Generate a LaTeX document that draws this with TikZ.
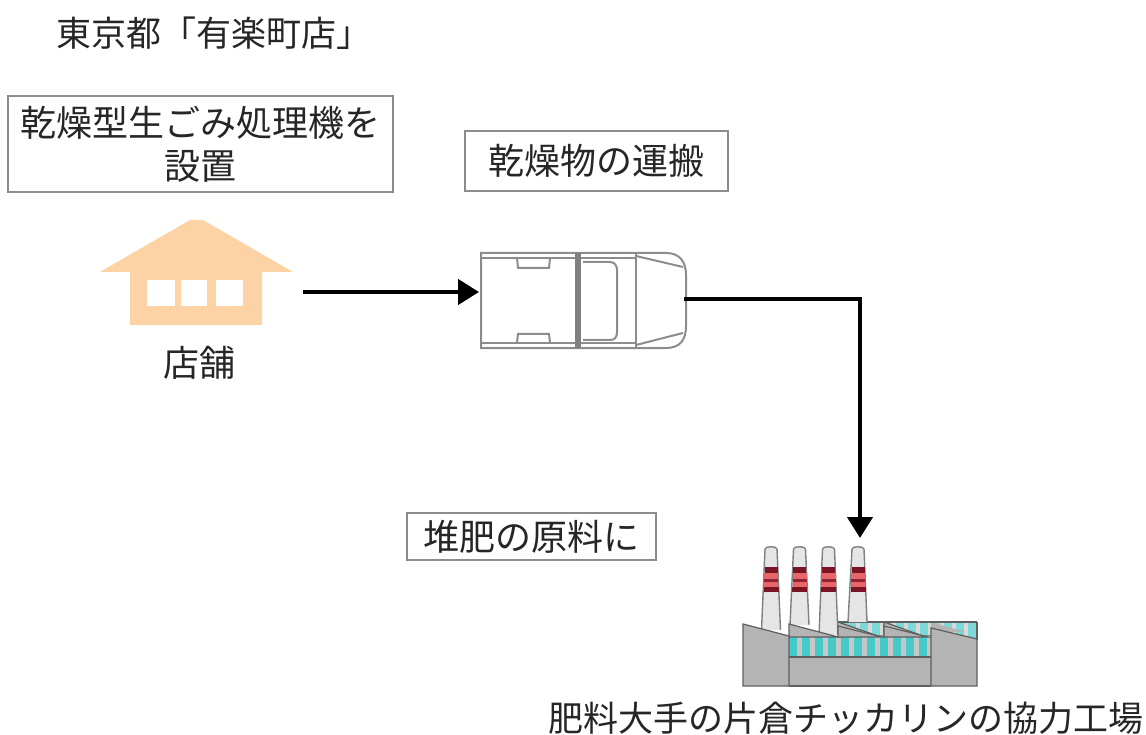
\documentclass[tikz,border=0pt]{standalone}
\usepackage{fontspec}
\usepackage{tikz}
\usetikzlibrary{arrows.meta}
\setmainfont{Noto Sans CJK JP}
\definecolor{housecol}{HTML}{FDD2A4}
\definecolor{wallcol}{HTML}{B4B4B4}
\definecolor{edgecol}{HTML}{5E5E5E}
\definecolor{glasscol}{HTML}{45C9C9}
\definecolor{banddark}{HTML}{7A1424}
\definecolor{bandlight}{HTML}{E8666A}
\tikzset{
  lbl/.style={inner sep=0pt,text=black!85,align=center,font=\fontsize{36}{43}\selectfont},
  lblbox/.style={lbl,draw=black!45,line width=1.2pt,rectangle},
  flow/.style={line width=4.4pt,-{Triangle[length=21pt,width=25pt]}},
  truckline/.style={draw=black!45,line width=2pt}
}
\begin{document}
\begin{tikzpicture}[x=1pt,y=-1pt]
\useasboundingbox (0,0) rectangle (1146,735);
\node[lbl,font=\fontsize{35}{40}\selectfont] (title) at (214,33) {東京都「有楽町店」};
\node[lblbox,minimum width=385pt,minimum height=96pt] (boxdry) at (200.5,144) {乾燥型生ごみ処理機を\\設置};
\node[lblbox,minimum width=263pt,minimum height=60pt] (boxcarry) at (596.5,161) {乾燥物の運搬};
\node[lblbox,minimum width=249pt,minimum height=47pt] (boxcompost) at (531.5,536.5) {堆肥の原料に};
\node[lbl] (shop) at (199,363) {店舗};
\node[lbl,font=\fontsize{35}{40}\selectfont] (plant) at (846,718) {肥料大手の片倉チッカリンの協力工場};

% house
\fill[housecol] (100,272) -- (190,220) -- (203,220) -- (293,272) -- (262,272) -- (262,325) -- (130,325) -- (130,272) -- cycle;
\fill[white] (147,280) rectangle (175,306);
\fill[white] (181,280) rectangle (207,306);
\fill[white] (216,280) rectangle (243,306);

% truck
\node[minimum width=205pt,minimum height=95pt,inner sep=0pt] (truck) at (583.5,300.5) {};
\draw[truckline] (481,253) -- (666,253) .. controls (680,253) and (686,262) .. (686,275) -- (686,326) .. controls (686,340) and (680,348) .. (666,348) -- (481,348) -- cycle;
\draw[truckline] (481,258) -- (636,258);
\draw[truckline] (481,343) -- (636,343);
\draw[draw=black!50,line width=6pt] (578,253) -- (578,348);
\draw[truckline] (583,262) -- (610,262) .. controls (615,262) and (617,266) .. (617,270) -- (617,332) .. controls (617,337) and (615,340) .. (610,340) -- (583,340);
\draw[truckline] (636,253) -- (636,348);
\draw[truckline] (636,256) -- (683,267);
\draw[truckline] (636,345) -- (683,333);
\draw[truckline] (517,258) -- (518,268) -- (549,268) -- (550,258);
\draw[truckline] (517,343) -- (518,334) -- (549,334) -- (550,343);

% factory, back row of roofs
\fill[glasscol!70!white] (838,622) rectangle (977,640);
\foreach \x in {858,870,882,894,906,918,930,942,954,966}
  \draw[black!15,line width=4pt] (\x,622) -- (\x,640);
\fill[wallcol] (838,622) -- (878,636) -- (838,636) -- cycle;
\fill[wallcol] (883,622) -- (923,636) -- (883,636) -- cycle;
\fill[wallcol] (931,622) -- (965,632) -- (931,632) -- cycle;
\draw[edgecol,line width=1.2pt] (838,622) -- (977,622);
\draw[edgecol,line width=1.2pt] (838,622) -- (878,636) -- (884,636) -- (884,622) -- (923,636) -- (931,636);
% chimneys
\foreach \xa/\xb/\yb in {771/771/630,799.5/799.5/625,828.5/828.5/635,858/857.5/622}{
  \fill[black!10] (\xa-6,549) .. controls (\xa-6,546) and (\xa+6,546) .. (\xa+6,549) -- (\xb+9.5,\yb) -- (\xb-9.5,\yb) -- cycle;
  \draw[black!50,line width=1.4pt] (\xb-9.5,\yb) -- (\xa-6,549) .. controls (\xa-6,546) and (\xa+6,546) .. (\xa+6,549) -- (\xb+9.5,\yb);
  \fill[banddark] (\xa-6.5,567) rectangle (\xa+6.5,572.5);
  \fill[bandlight] (\xa-7,572.5) rectangle (\xa+7,587);
  \fill[banddark!80!bandlight] (\xa-7,578.5) rectangle (\xa+7,581.5);
  \fill[banddark] (\xa-7.5,587) rectangle (\xa+7.5,592);
}
% factory, walls and front windows
\fill[wallcol] (789,636) rectangle (931,686);
\fill[glasscol] (789,637) rectangle (931,657);
\foreach \x in {799,812,825,838,851,864,877,890,903,916,929}
  \draw[black!22,line width=5pt] (\x,637) -- (\x,657);
\draw[edgecol,line width=1.2pt] (789,657) -- (931,657);
\filldraw[fill=wallcol,draw=edgecol,line width=1.2pt] (789,624) -- (838,637) -- (789,637) -- cycle;
\filldraw[fill=wallcol,draw=edgecol,line width=1.2pt] (838,626) -- (882,637) -- (838,637) -- cycle;
\filldraw[fill=wallcol,draw=edgecol,line width=1.2pt] (884,626) -- (928,637) -- (884,637) -- cycle;
\filldraw[fill=wallcol,draw=edgecol,line width=1.2pt] (743,624) -- (789,636) -- (789,686) -- (743,686) -- cycle;
\filldraw[fill=wallcol,draw=edgecol,line width=1.2pt] (931,628) -- (977,639) -- (977,686) -- (931,686) -- cycle;
\draw[edgecol,line width=1.2pt] (789,686) -- (931,686);
\draw[edgecol,line width=1.2pt] (977,622) -- (977,640);

% connectors
\coordinate (houseout) at (303,292);
\coordinate (truckin) at (479,292);
\coordinate (truckout) at (684,299);
\coordinate (plantin) at (860,538);
\draw[flow] (houseout) -- (truckin);
\draw[flow] (truckout) -- (860,299) -- (plantin);
\end{tikzpicture}
\end{document}
